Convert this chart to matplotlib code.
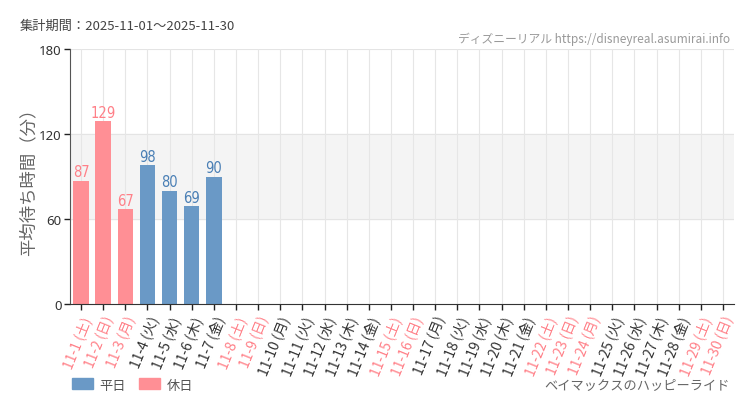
import matplotlib
matplotlib.use("Agg")
import matplotlib.pyplot as plt
from matplotlib.patches import Patch

plt.rcParams['font.family'] = ['Noto Sans CJK JP', 'DejaVu Sans']

days = list(range(1, 31))
weekdays = (['土', '日', '月', '火', '水', '木', '金'] * 5)[:30]
holidays = [1, 2, 3, 8, 9, 15, 16, 22, 23, 24, 29, 30]
values = [87, 129, 67, 98, 80, 69, 90] + [None] * 23
labels = [f"11-{d} ({w})" for d, w in zip(days, weekdays)]

BLUE = '#6a99c6'
PINK = '#ff8f95'
PINK_TXT = '#ff8088'

cond_family = 'DejaVu Sans'

fig = plt.figure(figsize=(7.5, 4.1), dpi=100)
ax = fig.add_axes([70/750, 105/410, 664/750, 255/410])

ax.axhspan(60, 120, color='#f4f4f4', zorder=0)
for y in (60, 120, 180):
    ax.axhline(y, color='#e4e4e4', lw=0.8, zorder=0.5)
for i in range(30):
    ax.axvline(i, color='#e6e6e6', lw=0.8, zorder=0.5)

for i, (d, v) in enumerate(zip(days, values)):
    if v is None:
        continue
    hol = d in holidays
    c = PINK if hol else BLUE
    ax.bar(i, v, width=0.7, color=c, zorder=2)
    ax.text(i, v + 1.0, str(v), ha='center', va='bottom', fontsize=10.5,
            family=[cond_family], fontstretch='condensed',
            color=PINK_TXT if hol else '#4a7fb5', zorder=3)

ax.set_xlim(-0.5, 29.5)
ax.set_ylim(0, 180)
ax.set_yticks([0, 60, 120, 180])
ax.set_yticklabels(['0', '60', '120', '180'], fontsize=9.5, color='#333', family=['Noto Sans', 'DejaVu Sans'])
ax.set_xticks(range(30))
ax.set_xticklabels(labels, rotation=68, ha='right', va='top', rotation_mode='anchor', fontsize=10)
for lab, d in zip(ax.get_xticklabels(), days):
    lab.set_color(PINK_TXT if d in holidays else '#333333')
ax.tick_params(axis='x', length=4, width=1, color='#222', pad=3)
ax.tick_params(axis='y', length=4, width=1, color='#222', pad=2)
for s in ('top', 'right'):
    ax.spines[s].set_visible(False)
ax.spines['left'].set_color('#555')
ax.spines['bottom'].set_color('#333')
ax.set_ylabel('平均待ち時間（分）', fontsize=12.5, color='#666', labelpad=0)
ax.yaxis.set_label_coords(-33/664, 0.5)

fig.text(20/750, 1 - 26/410, '集計期間：2025-11-01～2025-11-30', fontsize=9.5, color='#444', va='center')
fig.text(730/750, 1 - 39/410, 'ディズニーリアル https://disneyreal.asumirai.info', fontsize=8.5,
         color='#999', ha='right', va='center', family=['Noto Sans CJK JP', cond_family],
         fontstretch='condensed')
fig.text(730/750, 1 - 386/410, 'ベイマックスのハッピーライド', fontsize=9.5, color='#666', ha='right', va='center')

handles = [Patch(color=BLUE, label='平日'), Patch(color=PINK, label='休日')]
fig.legend(handles=handles, loc='center left', bbox_to_anchor=(60/750, 1 - 386/410), ncol=2,
           frameon=False, fontsize=9.5, handlelength=1.6, handleheight=0.9, columnspacing=1.0,
           handletextpad=0.5, labelcolor='#555')

fig.savefig('out.png', dpi=100, facecolor='white')
